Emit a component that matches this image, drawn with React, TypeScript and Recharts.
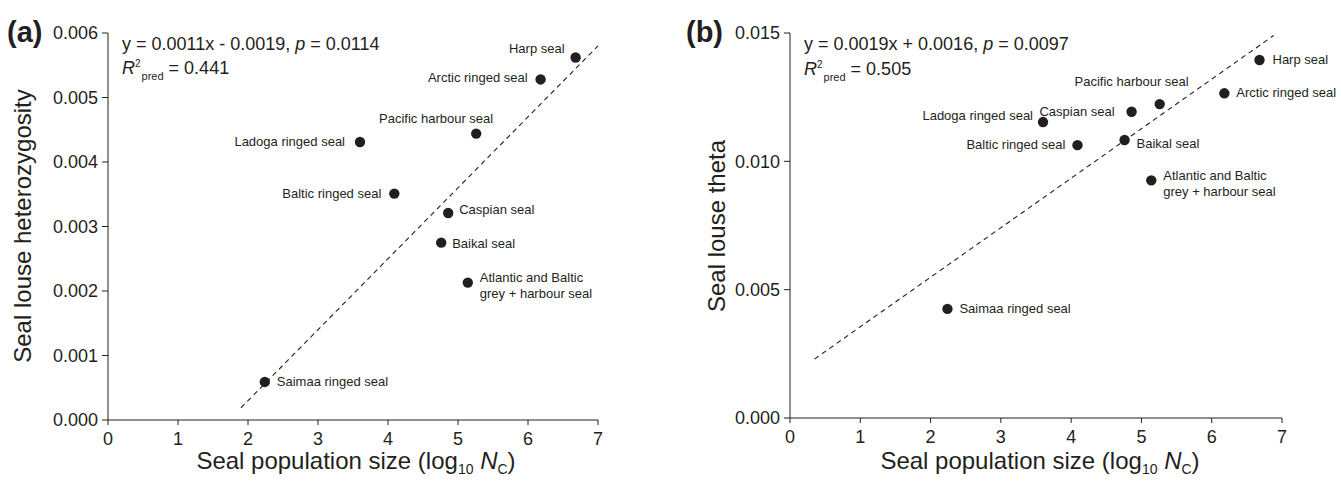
import { Scatter, ScatterChart, XAxis, YAxis } from "recharts";

const INK = "#231f20";
const FONT = '"Liberation Sans", Arial, Helvetica, sans-serif';

// same order in every array below
const species = [
  "Harp seal",
  "Arctic ringed seal",
  "Pacific harbour seal",
  "Ladoga ringed seal",
  "Baltic ringed seal",
  "Caspian seal",
  "Baikal seal",
  "Atlantic and Baltic\ngrey + harbour seal",
  "Saimaa ringed seal",
];
const popSize = [6.68, 6.18, 5.26, 3.6, 4.09, 4.86, 4.76, 5.14, 2.24];
const heterozygosity = [0.00562, 0.00528, 0.00444, 0.00431, 0.00351, 0.00321, 0.00275, 0.00213, 0.00059];
const theta = [0.01395, 0.01265, 0.01223, 0.01153, 0.01063, 0.01193, 0.01083, 0.00926, 0.00425];

// dashed regression lines, end points
const fitAX = [1.9, 7.0];
const fitAY = [0.00019, 0.0058];
const fitBX = [0.35, 6.88];
const fitBY = [0.0023, 0.0149];

const xTicks = [0, 1, 2, 3, 4, 5, 6, 7];
const yTicksA = [0, 0.001, 0.002, 0.003, 0.004, 0.005, 0.006];
const yTicksB = [0, 0.005, 0.01, 0.015];

const pointsA = species.map((name, i) => ({ name, x: popSize[i], y: heterozygosity[i] }));
const pointsB = species.map((name, i) => ({ name, x: popSize[i], y: theta[i] }));
const fitA = fitAX.map((x, i) => ({ x, y: fitAY[i] }));
const fitB = fitBX.map((x, i) => ({ x, y: fitBY[i] }));

type Place = { dx: number; dy: number; anchor: "start" | "end" | "middle" };

const placeA: Place[] = [
  { dx: -11, dy: -5, anchor: "end" },
  { dx: -13, dy: 3, anchor: "end" },
  { dx: 17, dy: -11, anchor: "end" },
  { dx: -15, dy: 4, anchor: "end" },
  { dx: -13, dy: 4, anchor: "end" },
  { dx: 11, dy: 1, anchor: "start" },
  { dx: 11, dy: 5, anchor: "start" },
  { dx: 12, dy: -1, anchor: "start" },
  { dx: 12, dy: 4, anchor: "start" },
];
const placeB: Place[] = [
  { dx: 13, dy: 4, anchor: "start" },
  { dx: 12, dy: 4, anchor: "start" },
  { dx: 29, dy: -18, anchor: "end" },
  { dx: -10, dy: -2, anchor: "end" },
  { dx: -12, dy: 4, anchor: "end" },
  { dx: -17, dy: 4, anchor: "end" },
  { dx: 12, dy: 8, anchor: "start" },
  { dx: 12, dy: 0, anchor: "start" },
  { dx: 12, dy: 4, anchor: "start" },
];

const makeDot = (place: Place[]) => (props: any) => {
  const { cx, cy, payload } = props;
  const p = place[species.indexOf(payload.name)];
  const lines = String(payload.name).split("\n");
  return (
    <g>
      <circle cx={cx} cy={cy} r={5.2} fill={INK} />
      <text x={cx + p.dx} y={cy + p.dy} textAnchor={p.anchor} fontSize={13} fill={INK} fontFamily={FONT}>
        {lines.map((l, i) => (
          <tspan key={i} x={cx + p.dx} dy={i ? 16 : 0}>
            {l}
          </tspan>
        ))}
      </text>
    </g>
  );
};

const noDot = () => <g />;

const tickStyle = { fill: INK, fontSize: 18, fontFamily: FONT };

const Panel = ({ points, fit, yTicks, place, margin, width, yFmt }: any) => (
  <ScatterChart width={width} height={481} margin={margin}>
    <XAxis
      type="number"
      dataKey="x"
      domain={[0, 7]}
      ticks={xTicks}
      interval={0}
      height={30}
      tickSize={5}
      tickMargin={7}
      stroke={INK}
      tick={tickStyle}
    />
    <YAxis
      type="number"
      dataKey="y"
      domain={[0, yTicks[yTicks.length - 1]]}
      ticks={yTicks}
      interval={0}
      width={60}
      tickSize={6}
      tickMargin={4}
      stroke={INK}
      tick={tickStyle}
      tickFormatter={yFmt}
    />
    <Scatter
      data={fit}
      line={{ stroke: INK, strokeWidth: 1.1, strokeDasharray: "5 4" }}
      shape={noDot}
      isAnimationActive={false}
    />
    <Scatter data={points} shape={makeDot(place)} isAnimationActive={false} />
  </ScatterChart>
);

const Rpred = ({ x, y, value }: { x: number; y: number; value: string }) => (
  <text x={x} y={y} fontSize={18} fill={INK} fontFamily={FONT}>
    <tspan fontStyle="italic">R</tspan>
    <tspan fontSize={10} dy={-7}>2</tspan>
    <tspan fontSize={11} dy={13} dx={1}>pred</tspan>
    <tspan dy={-6}>{` = ${value}`}</tspan>
  </text>
);

const XTitle = ({ cx }: { cx: number }) => (
  <text x={cx} y={469} textAnchor="middle" fontSize={24} fill={INK} fontFamily={FONT}>
    Seal population size (log
    <tspan fontSize={14} dy={5}>10</tspan>
    <tspan dy={-5}> </tspan>
    <tspan fontStyle="italic">N</tspan>
    <tspan fontSize={14} dy={5}>C</tspan>
    <tspan dy={-5}>)</tspan>
  </text>
);

export default function App() {
  return (
    <div style={{ position: "absolute", left: 0, top: 0, width: 1341, height: 481, background: "#fff", fontFamily: FONT }}>
      <div style={{ position: "absolute", left: 0, top: 0 }}>
        <Panel
          width={670}
          points={pointsA}
          fit={fitA}
          yTicks={yTicksA}
          place={placeA}
          margin={{ top: 33, right: 72, bottom: 31, left: 48 }}
          yFmt={(v: number) => v.toFixed(3)}
        />
      </div>
      <div style={{ position: "absolute", left: 670, top: 0 }}>
        <Panel
          width={671}
          points={pointsB}
          fit={fitB}
          yTicks={yTicksB}
          place={placeB}
          margin={{ top: 33, right: 59, bottom: 33, left: 60 }}
          yFmt={(v: number) => v.toFixed(3)}
        />
      </div>
      <svg width={1341} height={481} style={{ position: "absolute", left: 0, top: 0, pointerEvents: "none" }}>
        <text x={7} y={42} fontSize={29} fontWeight="bold" fill={INK} fontFamily={FONT}>(a)</text>
        <text x={686} y={42} fontSize={29} fontWeight="bold" fill={INK} fontFamily={FONT}>(b)</text>

        <text x={122} y={50} fontSize={18} fill={INK} fontFamily={FONT}>
          y = 0.0011x - 0.0019, <tspan fontStyle="italic">p</tspan> = 0.0114
        </text>
        <Rpred x={122} y={74} value="0.441" />
        <text x={804} y={50} fontSize={18} fill={INK} fontFamily={FONT}>
          y = 0.0019x + 0.0016, <tspan fontStyle="italic">p</tspan> = 0.0097
        </text>
        <Rpred x={804} y={75} value="0.505" />

        <text transform="translate(31,226) rotate(-90)" textAnchor="middle" fontSize={24} fill={INK} fontFamily={FONT}>
          Seal louse heterozygosity
        </text>
        <text transform="translate(725,226) rotate(-90)" textAnchor="middle" fontSize={24} fill={INK} fontFamily={FONT}>
          Seal louse theta
        </text>
        <XTitle cx={356} />
        <XTitle cx={1040} />
      </svg>
    </div>
  );
}
